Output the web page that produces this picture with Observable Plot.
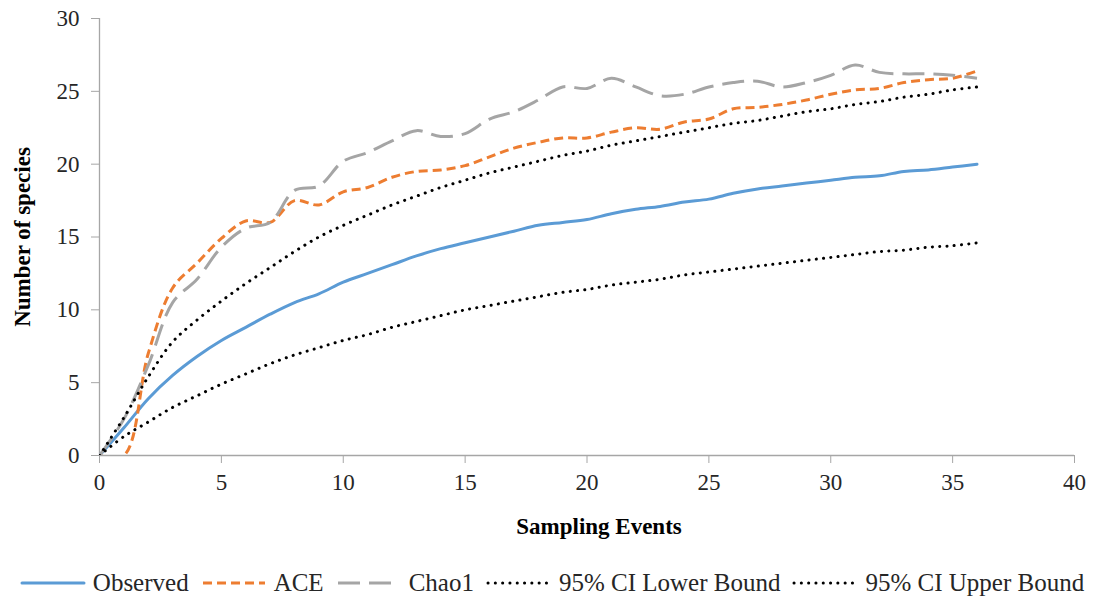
<!DOCTYPE html>
<html>
<head>
<meta charset="utf-8">
<script src="https://cdn.jsdelivr.net/npm/d3@7"></script>
<script src="https://cdn.jsdelivr.net/npm/@observablehq/plot@0.6"></script>
<style>
  html, body { margin: 0; padding: 0; background: #fff; }
  #chart { width: 1094px; }
  g[aria-label$="axis label"] text { font-weight: bold; fill: #000; }
  .legend { display: flex; justify-content: center; align-items: center; width: 1094px; box-sizing: border-box;
    padding-top: 8px; padding-left: 10px; height: 38px;
    font-family: "Liberation Serif", "Times New Roman", serif; font-size: 25px; color: #262626; }
  .legend .item { display: flex; align-items: center; margin: 0 6px; white-space: nowrap; }
  .legend svg { margin-right: 7px; }
</style>
</head>
<body>
<div id="chart"></div>
<div class="legend" id="legend"></div>
<script>
const events = [0,1,2,3,4,5,6,7,8,9,10,11,12,13,14,15,16,17,18,19,20,21,22,23,24,25,26,27,28,29,30,31,32,33,34,35,36];
const observed = [0,1.9,3.9,5.5,6.8,7.9,8.8,9.7,10.5,11.1,11.9,12.5,13.1,13.7,14.2,14.6,15.0,15.4,15.8,16.0,16.2,16.6,16.9,17.1,17.4,17.6,18.0,18.3,18.5,18.7,18.9,19.1,19.2,19.5,19.6,19.8,20.0];
const ace = [0,0,7.0,11.5,13.2,14.9,16.1,16.0,17.5,17.2,18.1,18.4,19.1,19.5,19.6,19.9,20.5,21.1,21.5,21.8,21.8,22.2,22.5,22.4,22.9,23.1,23.8,23.9,24.1,24.4,24.8,25.1,25.2,25.6,25.8,25.9,26.4];
const chao1 = [0,2.5,6.2,10.5,12.1,14.3,15.6,16.0,18.2,18.5,20.2,20.8,21.6,22.3,21.9,22.1,23.1,23.6,24.4,25.3,25.2,25.9,25.3,24.7,24.8,25.3,25.6,25.7,25.3,25.6,26.1,26.8,26.3,26.2,26.2,26.1,25.9];
const ciLower = [0,1.3,2.3,3.3,4.1,4.9,5.6,6.3,6.9,7.4,7.9,8.3,8.8,9.2,9.6,10.0,10.3,10.6,10.9,11.2,11.4,11.7,11.9,12.1,12.4,12.6,12.8,13.0,13.2,13.4,13.6,13.8,14.0,14.1,14.3,14.4,14.6];
const ciUpper = [0,2.6,5.4,7.8,9.3,10.6,11.8,12.9,14.0,15.0,15.8,16.5,17.2,17.8,18.4,18.9,19.4,19.8,20.2,20.6,20.9,21.3,21.6,21.9,22.2,22.5,22.8,23.0,23.3,23.6,23.8,24.1,24.3,24.6,24.8,25.1,25.3];
const seriesNames = ["Observed", "ACE", "Chao1", "95% CI Lower Bound", "95% CI Upper Bound"];
const xTicks = [0,5,10,15,20,25,30,35,40];
const yTicks = [0,5,10,15,20,25,30];

const seriesValues = [observed, ace, chao1, ciLower, ciUpper];
const styles = [
  {stroke: "#5B9BD5", strokeWidth: 3, strokeDasharray: null, strokeLinecap: "round"},
  {stroke: "#ED7D31", strokeWidth: 3, strokeDasharray: "9,5", strokeLinecap: "butt"},
  {stroke: "#A5A5A5", strokeWidth: 3, strokeDasharray: "22,9", strokeLinecap: "butt"},
  {stroke: "#000000", strokeWidth: 3, strokeDasharray: "0.1,7.2", strokeLinecap: "round"},
  {stroke: "#000000", strokeWidth: 3, strokeDasharray: "0.1,7.2", strokeLinecap: "round"}
];
const rows = seriesNames.map((name, i) => events.map((e, j) => ({series: name, x: e, y: seriesValues[i][j]})));

const chart = Plot.plot({
  width: 1094,
  height: 560,
  marginLeft: 99,
  marginRight: 20,
  marginTop: 18,
  marginBottom: 105,
  style: {fontFamily: "'Liberation Serif', 'Times New Roman', serif", fontSize: "23px", color: "#262626", background: "#fff"},
  x: {domain: [0, 40]},
  y: {domain: [0, 30]},
  marks: [
    Plot.axisX({ticks: xTicks, tickSize: 8, tickPadding: 10, stroke: "#a6a6a6", fill: "#262626",
      label: "Sampling Events", labelAnchor: "center", labelOffset: 78, labelArrow: "none", tickFormat: d => String(d)}),
    Plot.axisY({ticks: yTicks, tickSize: 8, tickPadding: 12, stroke: "#a6a6a6", fill: "#262626",
      label: "Number of species", labelAnchor: "center", labelOffset: 86, labelArrow: "none", tickFormat: d => String(d)}),
    Plot.ruleX([0], {stroke: "#a6a6a6", strokeWidth: 1.3}),
    Plot.ruleY([0], {stroke: "#a6a6a6", strokeWidth: 1.3}),
    ...rows.map((r, i) => Plot.line(r, {x: "x", y: "y", curve: "catmull-rom", clip: true, ...styles[i], strokeDasharray: styles[i].strokeDasharray || undefined}))
  ]
});
document.getElementById("chart").appendChild(chart);
d3.select(chart).selectAll('g[aria-label="x-axis label"] text').attr("dx", 12);

const legend = d3.select("#legend");
seriesNames.forEach((name, i) => {
  const item = legend.append("div").attr("class", "item");
  const s = item.append("svg").attr("width", 66).attr("height", 10);
  const st = styles[i];
  s.append("line").attr("x1", 2).attr("x2", 64).attr("y1", 5).attr("y2", 5)
    .attr("stroke", st.stroke).attr("stroke-width", st.strokeWidth)
    .attr("stroke-dasharray", st.strokeDasharray).attr("stroke-linecap", st.strokeLinecap);
  item.append("span").text(name);
});
</script>
</body>
</html>
